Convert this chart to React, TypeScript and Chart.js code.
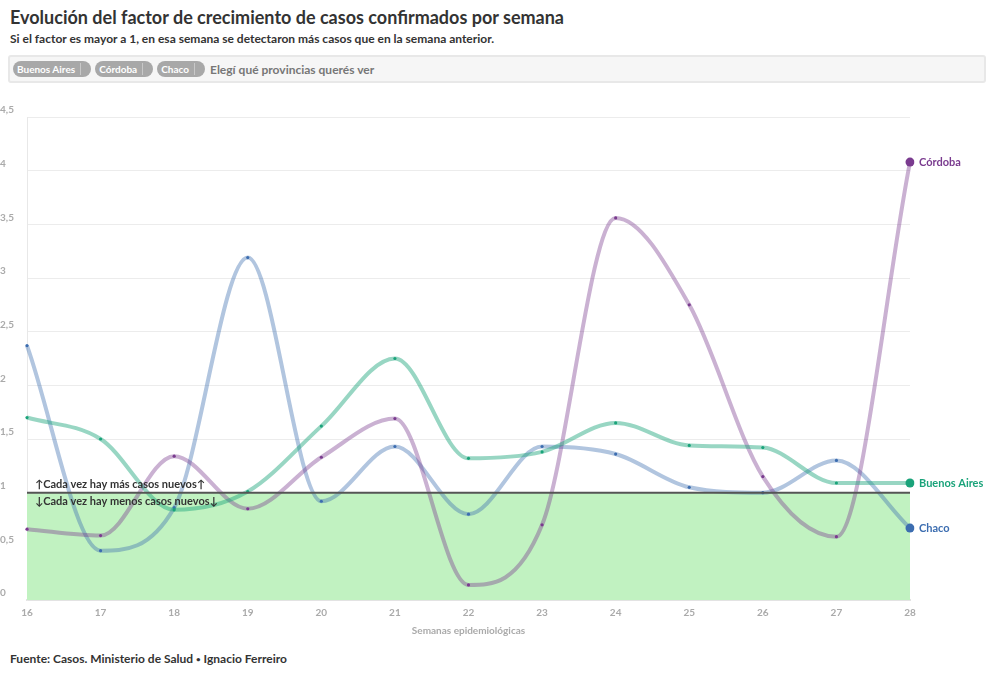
import React, { useEffect, useRef } from 'react';
import { Chart, registerables } from 'chart.js';

Chart.register(...registerables);

const weeks = ['16', '17', '18', '19', '20', '21', '22', '23', '24', '25', '26', '27', '28'];
const buenosAires = [1.7, 1.5, 0.84, 1.01, 1.62, 2.25, 1.32, 1.38, 1.65, 1.44, 1.42, 1.09, 1.09];
const cordoba = [0.66, 0.6, 1.34, 0.85, 1.33, 1.69, 0.14, 0.7, 3.56, 2.75, 1.15, 0.59, 4.08];
const chaco = [2.37, 0.46, 0.86, 3.19, 0.92, 1.43, 0.8, 1.43, 1.36, 1.05, 1.0, 1.3, 0.67];
const threshold = weeks.map(() => 1);
const yTicks = [0, 0.5, 1, 1.5, 2, 2.5, 3, 3.5, 4, 4.5];

const FONT = 'Lato, "Open Sans", sans-serif';

const series = [
  { name: 'Buenos Aires', data: buenosAires, color: '#1aa37a', line: 'rgba(26,163,122,0.45)' },
  { name: 'Córdoba', data: cordoba, color: '#7a3b8f', line: 'rgba(122,59,143,0.4)' },
  { name: 'Chaco', data: chaco, color: '#3c6db0', line: 'rgba(60,109,176,0.4)' },
];

const overlayPlugin = {
  id: 'overlay',
  afterDatasetsDraw(chart: any) {
    const { ctx, scales } = chart;
    const x = scales.x;
    const y = scales.y;
    const y1 = y.getPixelForValue(1);
    ctx.save();
    ctx.font = `bold 11px ${FONT}`;
    ctx.fillStyle = '#333';
    ctx.textAlign = 'left';
    ctx.textBaseline = 'bottom';
    ctx.fillText('↑Cada vez hay más casos nuevos↑', x.left + 8, y1 - 3);
    ctx.textBaseline = 'top';
    ctx.fillText('↓Cada vez hay menos casos nuevos↓', x.left + 8, y1 + 3);
    // etiquetas al final de cada línea
    const last = weeks.length - 1;
    ctx.textBaseline = 'middle';
    series.forEach((s) => {
      ctx.fillStyle = s.color;
      ctx.fillText(s.name, x.getPixelForValue(last) + 9, y.getPixelForValue(s.data[last]));
    });
    ctx.restore();
  },
};

const ChartBox: React.FC = () => {
  const canvasRef = useRef<HTMLCanvasElement | null>(null);
  const chartRef = useRef<Chart | null>(null);

  useEffect(() => {
    if (!canvasRef.current) return;
    const ctx = canvasRef.current.getContext('2d');
    if (!ctx) return;
    if (chartRef.current) chartRef.current.destroy();

    const last = weeks.length - 1;
    chartRef.current = new Chart(ctx, {
      type: 'line',
      data: {
        labels: weeks,
        datasets: [
          {
            label: 'fill',
            data: threshold,
            fill: 'origin',
            backgroundColor: '#c1f2c1',
            borderWidth: 0,
            pointRadius: 0,
            tension: 0,
            order: 10,
          },
          ...series.map((s) => ({
            label: s.name,
            data: s.data,
            borderColor: s.line,
            borderWidth: 4,
            cubicInterpolationMode: 'monotone',
            fill: false,
            pointRadius: (c: any) => (c.dataIndex === last ? 4.5 : 1.6),
            pointBackgroundColor: s.color,
            pointBorderWidth: 0,
            order: 5,
          })),
          {
            label: 'umbral',
            data: threshold,
            fill: false,
            borderColor: '#555',
            borderWidth: 2,
            pointRadius: 0,
            tension: 0,
            order: 0,
          },
        ],
      },
      options: {
        responsive: false,
        animation: false,
        layout: { padding: { top: 22, right: 83, left: 0, bottom: 0 } },
        plugins: {
          legend: { display: false },
          tooltip: { enabled: false },
        },
        scales: {
          x: {
            grid: { display: false, drawTicks: true, tickLength: 5 },
            border: { color: '#e3e3e3', width: 2 },
            ticks: {
              color: '#aaa',
              font: { family: FONT, size: 10, weight: 'bold' },
              maxRotation: 0,
              padding: 2,
            },
            title: {
              display: true,
              text: 'Semanas epidemiológicas',
              color: '#aaa',
              font: { family: FONT, size: 10, weight: 'bold' },
              padding: { top: 4, bottom: 0 },
            },
          },
          y: {
            min: 0,
            max: 4.5,
            afterFit: (scale: any) => {
              scale.width = 27;
            },
            afterBuildTicks: (scale: any) => {
              scale.ticks = yTicks.map((v) => ({ value: v }));
            },
            grid: { color: '#ececec', drawTicks: false },
            border: { color: '#e8e8e8', width: 1 },
            ticks: {
              color: '#aaa',
              font: { family: FONT, size: 10, weight: 'bold' },
              crossAlign: 'far',
              labelOffset: -7,
              padding: 0,
              callback: (v: any) => String(v).replace('.', ','),
            },
          },
        },
      },
      plugins: [overlayPlugin],
    });

    return () => {
      if (chartRef.current) {
        chartRef.current.destroy();
        chartRef.current = null;
      }
    };
  }, []);

  return <canvas ref={canvasRef} width={993} height={542} style={{ display: 'block' }} />;
};

const pill: React.CSSProperties = {
  display: 'inline-block',
  background: '#a8a8a8',
  color: '#fff',
  fontWeight: 700,
  fontSize: 10,
  borderRadius: 8,
  padding: '2px 16px 2px 4px',
  marginRight: 4,
  position: 'relative',
  lineHeight: '12px',
};

const App: React.FC = () => {
  return (
    <div style={{ position: 'absolute', left: 0, top: 0, width: 993, height: 675, fontFamily: FONT, background: '#fff' }}>
      <div style={{ position: 'absolute', left: 10, top: 6, fontSize: 18, fontWeight: 700, color: '#333', whiteSpace: 'nowrap' }}>
        Evolución del factor de crecimiento de casos confirmados por semana
      </div>
      <div style={{ position: 'absolute', left: 10, top: 31, fontSize: 12, fontWeight: 700, color: '#333', whiteSpace: 'nowrap' }}>
        Si el factor es mayor a 1, en esa semana se detectaron más casos que en la semana anterior.
      </div>
      <div
        style={{
          position: 'absolute',
          left: 8,
          top: 55,
          width: 971,
          height: 24,
          background: '#f6f6f6',
          border: '2px solid #e8e8e8',
          borderRadius: 3,
          display: 'flex',
          alignItems: 'center',
          paddingLeft: 3,
          boxSizing: 'content-box',
        }}
      >
        {series.map((s) => (
          <span key={s.name} style={pill}>
            {s.name}
            <span style={{ position: 'absolute', right: 10, top: 2, bottom: 2, width: 1, background: '#c8c8c8' }} />
          </span>
        ))}
        <span style={{ fontSize: 12, fontWeight: 700, color: '#777', marginLeft: 1 }}>Elegí qué provincias querés ver</span>
      </div>
      <div style={{ position: 'absolute', left: 0, top: 95 }}>
        <ChartBox />
      </div>
      <div style={{ position: 'absolute', left: 10, top: 651, fontSize: 12, fontWeight: 700, color: '#333', whiteSpace: 'nowrap' }}>
        Fuente: Casos. Ministerio de Salud <span style={{ fontSize: 8, verticalAlign: 1 }}>•</span> Ignacio Ferreiro
      </div>
    </div>
  );
};

export default App;
